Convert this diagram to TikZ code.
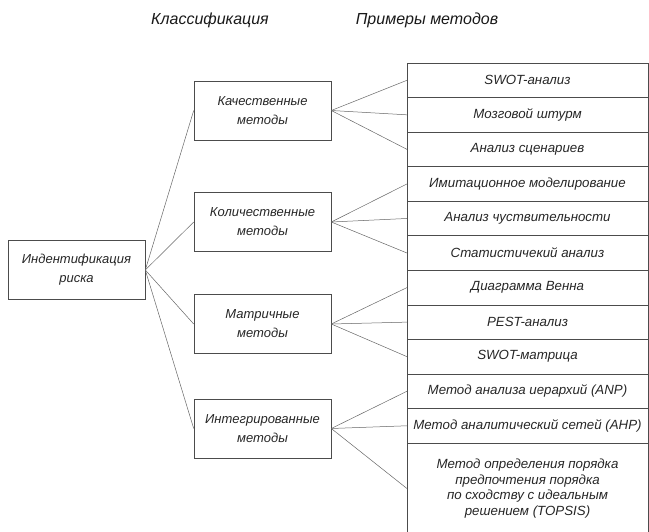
\documentclass[tikz,border=0pt]{standalone}
\usepackage{fontspec}
\setmainfont{Liberation Sans}
\usetikzlibrary{positioning}

\begin{document}
\begin{tikzpicture}[
  x=1pt, y=-1pt,
  box/.style={draw=black!70, line width=0.6pt, minimum width=137pt,
              minimum height=59pt, align=center, inner sep=2pt,
              font=\itshape\fontsize{13}{19}\selectfont, text=black!85},
  item/.style={draw=black!70, line width=0.6pt, minimum width=241pt,
               minimum height=34.55pt, align=center, inner sep=1pt, outer sep=0pt,
               font=\itshape\fontsize{13.3}{15.5}\selectfont, text=black!85},
  link/.style={draw=black!60, line width=0.5pt},
  head/.style={font=\itshape\fontsize{16}{19}\selectfont, text=black!90}
]
\clip (0,0) rectangle (649,532);
% column headers
\node[head] (hclass) at (210,20) {Классификация};
\node[head] (hexamples) at (427,20) {Примеры методов};

% root and classes
\node[box] (risk) at (76.5,270) {Индентификация\\риска};
\node[box] (qual) at (262.5,110.5) {Качественные\\методы};
\node[box] (quant) at (262.5,222) {Количественные\\методы};
\node[box] (matrix) at (262.5,324) {Матричные\\методы};
\node[box] (integr) at (262.5,428.5) {Интегрированные\\методы};

% examples column
\node[item, anchor=north west] (swot) at (407,63) {SWOT-анализ};
\node[item, below=0pt of swot] (brain) {Мозговой штурм};
\node[item, below=0pt of brain] (scen) {Анализ сценариев};
\node[item, below=0pt of scen] (simul) {Имитационное моделирование};
\node[item, below=0pt of simul] (sens) {Анализ чуствительности};
\node[item, below=0pt of sens] (stat) {Статистичекий анализ};
\node[item, below=0pt of stat] (venn) {Диаграмма Венна};
\node[item, below=0pt of venn] (pest) {PEST-анализ};
\node[item, below=0pt of pest] (swotm) {SWOT-матрица};
\node[item, below=0pt of swotm] (anp) {Метод анализа иерархий (ANP)};
\node[item, below=0pt of anp] (ahp) {Метод аналитический сетей (AHP)};
\node[item, below=0pt of ahp, minimum height=91pt] (topsis)
  {Метод определения порядка\\предпочтения порядка\\по сходству с идеальным\\решением (TOPSIS)};

% connectors
\draw[link] (risk.east) -- (qual.west);
\draw[link] (risk.east) -- (quant.west);
\draw[link] (risk.east) -- (matrix.west);
\draw[link] (risk.east) -- (integr.west);
\draw[link] (qual.east) -- (swot.west);
\draw[link] (qual.east) -- (brain.west);
\draw[link] (qual.east) -- (scen.west);
\draw[link] (quant.east) -- (simul.west);
\draw[link] (quant.east) -- (sens.west);
\draw[link] (quant.east) -- (stat.west);
\draw[link] (matrix.east) -- (venn.west);
\draw[link] (matrix.east) -- (pest.west);
\draw[link] (matrix.east) -- (swotm.west);
\draw[link] (integr.east) -- (anp.west);
\draw[link] (integr.east) -- (ahp.west);
\draw[link] (integr.east) -- (topsis.west);
\end{tikzpicture}
\end{document}
